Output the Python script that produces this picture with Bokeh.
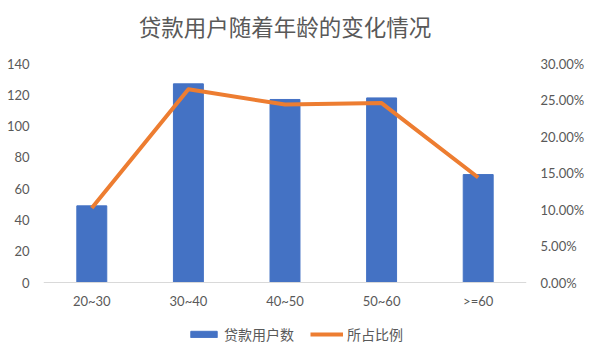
from bokeh.plotting import figure
from bokeh.models import (Range1d, LinearAxis, NumeralTickFormatter, Legend,
                          LegendItem, FixedTicker)
from bokeh.embed import file_html
from bokeh.resources import INLINE

# ---- data ----
title_text = "贷款用户随着年龄的变化情况"
categories = ["20~30", "30~40", "40~50", "50~60", ">=60"]
users = [49, 127, 117, 118, 69]
ratio = [0.1021, 0.2646, 0.2438, 0.2458, 0.1438]
left_ticks = [0, 20, 40, 60, 80, 100, 120, 140]
right_ticks = [0.0, 0.05, 0.10, 0.15, 0.20, 0.25, 0.30]
series_names = ["贷款用户数", "所占比例"]

GRAY = "#595959"
NUM_FONT = "Lato"
CJK_FONT = "Noto Sans CJK SC"

# layout (pixels): frame covers title-gap above and legend area below the data
TOP_PAD = 18      # px above the top tick
DATA_H = 219      # px between 0 and the top tick
BOTTOM_PAD = 74   # px below the zero line (axis labels + legend)
FRAME_H = TOP_PAD + DATA_H + BOTTOM_PAD

l_scale = left_ticks[-1] / DATA_H
r_scale = right_ticks[-1] / DATA_H

p = figure(frame_width=483, frame_height=FRAME_H, x_range=categories,
           y_range=Range1d(-BOTTOM_PAD * l_scale, left_ticks[-1] + TOP_PAD * l_scale),
           toolbar_location=None, output_backend="svg",
           min_border_left=43, min_border_right=67,
           min_border_top=45, min_border_bottom=0)
p.x_range.range_padding = 0
p.extra_y_ranges = {"pct": Range1d(-BOTTOM_PAD * r_scale,
                                   right_ticks[-1] + TOP_PAD * r_scale)}

p.title.text = title_text
p.title.align = "center"
p.title.text_font = CJK_FONT
p.title.text_font_size = "22.5px"
p.title.text_font_style = "normal"
p.title.text_color = GRAY
p.title.standoff = 8

p.xgrid.visible = False
p.ygrid.visible = False
p.outline_line_color = None

bars = p.vbar(x=categories, top=users, bottom=0, width=0.31, color="#4472C4")
line = p.line(x=categories, y=ratio, y_range_name="pct", line_width=4,
              color="#ED7D31", line_join="round")

def style_axis(ax, standoff):
    ax.major_tick_line_color = None
    ax.minor_tick_line_color = None
    ax.major_tick_out = 0
    ax.major_tick_in = 0
    ax.minor_tick_out = 0
    ax.minor_tick_in = 0
    ax.major_label_text_color = GRAY
    ax.major_label_text_font = NUM_FONT
    ax.major_label_text_font_size = "13px"
    ax.major_label_standoff = standoff

# left axis
ya = p.yaxis[0]
ya.ticker = FixedTicker(ticks=left_ticks)
ya.axis_line_color = None
style_axis(ya, 14)

# right axis
ra = LinearAxis(y_range_name="pct", ticker=FixedTicker(ticks=right_ticks),
                formatter=NumeralTickFormatter(format="0.00%"))
ra.axis_line_color = None
style_axis(ra, 14)
p.add_layout(ra, "right")

# bottom axis, pinned at the zero line
xa = p.xaxis[0]
xa.axis_line_color = "#D9D9D9"
xa.fixed_location = 0
style_axis(xa, 10)

legend = Legend(items=[LegendItem(label=series_names[0], renderers=[bars]),
                       LegendItem(label=series_names[1], renderers=[line])],
                orientation="horizontal", location=(144, 12))
legend.border_line_color = None
legend.background_fill_alpha = 0
legend.label_text_font = CJK_FONT
legend.label_text_font_size = "14px"
legend.label_text_color = GRAY
legend.glyph_width = 33
legend.glyph_height = 8
legend.label_standoff = 4
legend.spacing = 16
legend.padding = 0
legend.margin = 0
p.add_layout(legend, "center")

open("out.html", "w").write(file_html(p, INLINE))
